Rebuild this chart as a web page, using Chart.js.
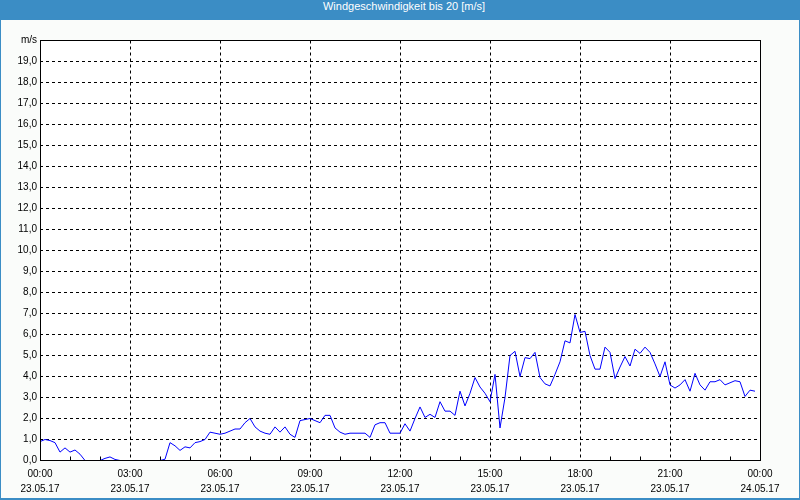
<!DOCTYPE html>
<html>
<head>
<meta charset="utf-8">
<script src="https://cdn.jsdelivr.net/npm/chart.js@4"></script>
<style>
  html, body { margin: 0; padding: 0; background: #fafcfa; }
  #frame {
    width: 800px; height: 500px; box-sizing: border-box;
    border-left: 1px solid #3b8dc5; border-right: 1px solid #3b8dc5; border-bottom: 2px solid #3b8dc5;
    background: #fafcfa;
  }
  #title {
    height: 20px; line-height: 20px; margin: 0 -1px; padding-left: 8px;
    background: #3b8dc5; color: #fff; text-align: center;
    font: 11px "Liberation Sans", Arial, sans-serif;
  }
  #wrap { position: relative; width: 798px; height: 478px; }
</style>
</head>
<body>
<div id="frame">
  <div id="title">Windgeschwindigkeit bis 20 [m/s]</div>
  <div id="wrap"><canvas id="windChart"></canvas></div>
</div>
<script>
// wind speed in m/s, one value every 10 minutes from 00:00 to 23:50
const speeds = [
  0.9, 1.0, 0.95, 0.85, 0.4, 0.6,
  0.4, 0.5, 0.3, 0.0, 0.0, 0.0,
  0.0, 0.1, 0.17, 0.05, 0.0, 0.0,
  0.0, 0.0, 0.0, 0.0, 0.0, 0.0,
  0.0, 0.06, 0.85, 0.7, 0.48, 0.65,
  0.6, 0.85, 0.9, 1.0, 1.35, 1.3,
  1.25, 1.3, 1.4, 1.5, 1.5, 1.8,
  2.0, 1.6, 1.4, 1.3, 1.25, 1.6,
  1.35, 1.6, 1.25, 1.1, 1.9, 1.95,
  2.0, 1.9, 1.8, 2.15, 2.15, 1.55,
  1.35, 1.25, 1.3, 1.3, 1.3, 1.3,
  1.1, 1.7, 1.8, 1.8, 1.3, 1.3,
  1.3, 1.75, 1.4, 2.0, 2.55, 2.05,
  2.2, 2.05, 2.8, 2.35, 2.35, 2.15,
  3.3, 2.6, 3.2, 3.95, 3.5, 3.2,
  2.8, 4.1, 1.55, 3.0, 5.0, 5.2,
  4.0, 4.9, 4.85, 5.15, 3.95, 3.65,
  3.55, 4.1, 4.7, 5.7, 5.6, 6.95,
  6.1, 6.15, 5.0, 4.35, 4.35, 5.4,
  5.15, 3.9, 4.45, 4.95, 4.5, 5.3,
  5.1, 5.4, 5.15, 4.6, 4.0, 4.7,
  3.6, 3.45, 3.6, 3.85, 3.3, 4.15,
  3.6, 3.35, 3.75, 3.75, 3.85, 3.6,
  3.7, 3.8, 3.75, 3.05, 3.35, 3.3
];
const tickTimes = ["00:00", "03:00", "06:00", "09:00", "12:00", "15:00", "18:00", "21:00", "00:00"];
const tickDates = ["23.05.17", "23.05.17", "23.05.17", "23.05.17", "23.05.17", "23.05.17", "23.05.17", "23.05.17", "24.05.17"];
const yUnit = "m/s";

const points = speeds.map((v, i) => ({ x: i / 6, y: v }));

// white plot background, black frame on top of the line, small hour ticks
const framePlugin = {
  id: "frame",
  beforeDatasetsDraw(chart) {
    const a = chart.chartArea;
    const ctx = chart.ctx;
    ctx.save();
    ctx.globalCompositeOperation = "destination-over";
    ctx.fillStyle = "#ffffff";
    ctx.fillRect(a.left, a.top, a.right - a.left, a.bottom - a.top);
    ctx.restore();
  },
  afterDatasetsDraw(chart) {
    const a = chart.chartArea;
    const ctx = chart.ctx;
    const xs = chart.scales.x;
    const bottom = Math.floor(a.bottom) + 0.5;
    ctx.save();
    ctx.strokeStyle = "#000";
    ctx.lineWidth = 1;
    ctx.beginPath();
    for (let h = 1; h < 24; h++) {
      if (h % 3 === 0) continue;
      const px = Math.round(xs.getPixelForValue(h)) + 0.5;
      ctx.moveTo(px, bottom);
      ctx.lineTo(px, bottom - 4);
    }
    ctx.stroke();
    const left = Math.floor(a.left) + 0.5;
    const top = Math.floor(a.top) + 0.5;
    const right = Math.floor(a.right) + 0.5;
    ctx.strokeRect(left, top, right - left, bottom - top);
    ctx.restore();
  }
};

const tickFont = { family: "'Liberation Sans', Arial, sans-serif", size: 10 };

new Chart(document.getElementById("windChart"), {
  type: "line",
  data: {
    datasets: [{
      data: points,
      borderColor: "#0000ff",
      borderWidth: 1,
      pointRadius: 0,
      tension: 0,
      fill: false
    }]
  },
  options: {
    responsive: true,
    maintainAspectRatio: false,
    animation: false,
    layout: { padding: { left: 0, right: 39, top: 20.5, bottom: 0 } },
    plugins: { legend: { display: false }, tooltip: { enabled: false } },
    scales: {
      x: {
        type: "linear",
        min: 0,
        max: 24,
        afterFit(scale) { scale.height = 37.5; },
        grid: { color: "#000", lineWidth: 1, drawTicks: false },
        border: { display: false, dash: [3, 3] },
        ticks: {
          stepSize: 3,
          autoSkip: false,
          maxRotation: 0,
          padding: 6,
          color: "#000",
          font: { ...tickFont, lineHeight: 1.5 },
          callback: (v, i) => [tickTimes[i], tickDates[i]]
        }
      },
      y: {
        min: 0,
        max: 20,
        afterFit(scale) { scale.width = 39; },
        grid: { color: "#000", lineWidth: 1, drawTicks: false },
        border: { display: false, dash: [3, 3] },
        ticks: {
          stepSize: 1,
          padding: 3,
          color: "#000",
          font: tickFont,
          callback: v => v === 20 ? yUnit : v.toFixed(1).replace(".", ",")
        }
      }
    }
  },
  plugins: [framePlugin]
});
</script>
</body>
</html>
